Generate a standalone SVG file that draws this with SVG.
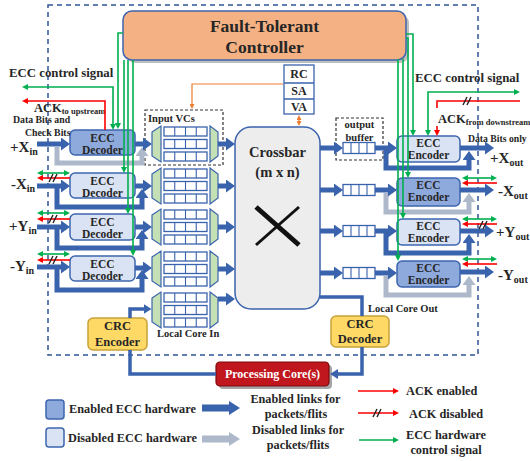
<svg xmlns="http://www.w3.org/2000/svg" xmlns:xlink="http://www.w3.org/1999/xlink" width="530" height="461" viewBox="0 0 530 461">
<style>
.t{font-family:"Liberation Serif","Times New Roman",serif;font-weight:bold;fill:#262626}
.en{fill:#8EA9DB;stroke:#3D65AE;stroke-width:1.5}
.dis{fill:#DAE3F3;stroke:#3D65AE;stroke-width:1.5}
.lk{fill:none;stroke:#3A63AD;stroke-width:5;stroke-linejoin:miter;marker-end:url(#bh)}
.lkg{fill:none;stroke:#ADB9CA;stroke-width:5;stroke-linejoin:miter;marker-end:url(#gh)}
.bl{fill:none;stroke:#3A63AD;stroke-width:3.5}
.g{fill:none;stroke:#00B050;stroke-width:1.6}
.ga{fill:none;stroke:#00B050;stroke-width:1.6;marker-end:url(#gm)}
.g2{fill:none;stroke:#00B050;stroke-width:1.6;marker-end:url(#gm);marker-start:url(#gm)}
.r{fill:none;stroke:#FF0000;stroke-width:1.6}
.rs{fill:none;stroke:#FF0000;stroke-width:1.6;marker-start:url(#rm)}
.ra{fill:none;stroke:#FF0000;stroke-width:1.6;marker-end:url(#rm)}
.hash{fill:none;stroke:#222;stroke-width:1.4}
.buf{fill:#fff;stroke:#3A63AD;stroke-width:1.3}
.mux{fill:#C5E0B4;stroke:#3A63AD;stroke-width:1.2}
.dash{fill:none;stroke:#333;stroke-width:1.2;stroke-dasharray:3,2}
.crc{fill:#FFD966;stroke:#C9A13B;stroke-width:1.5}
</style>
<defs>
<marker id="bh" markerUnits="userSpaceOnUse" viewBox="0 0 9 13" markerWidth="9" markerHeight="13" refX="0.5" refY="6.5" orient="auto"><path d="M0,0 L9,6.5 L0,13z" fill="#3A63AD"/></marker>
<marker id="gh" markerUnits="userSpaceOnUse" viewBox="0 0 9 13" markerWidth="9" markerHeight="13" refX="0.5" refY="6.5" orient="auto"><path d="M0,0 L9,6.5 L0,13z" fill="#ADB9CA"/></marker>
<marker id="mh" markerUnits="userSpaceOnUse" viewBox="0 0 8 10" markerWidth="8" markerHeight="10" refX="0.5" refY="5" orient="auto"><path d="M0,0 L8,5 L0,10z" fill="#3A63AD"/></marker>
<marker id="gm" markerUnits="userSpaceOnUse" viewBox="0 0 6 6" markerWidth="6" markerHeight="6" refX="1" refY="3" orient="auto-start-reverse"><path d="M0,0 L6,3 L0,6z" fill="#00B050"/></marker>
<marker id="rm" markerUnits="userSpaceOnUse" viewBox="0 0 6 6" markerWidth="6" markerHeight="6" refX="1" refY="3" orient="auto-start-reverse"><path d="M0,0 L6,3 L0,6z" fill="#FF0000"/></marker>
<marker id="om" markerUnits="userSpaceOnUse" viewBox="0 0 5 5" markerWidth="5" markerHeight="5" refX="1" refY="2.5" orient="auto-start-reverse"><path d="M0,0 L5,2.5 L0,5z" fill="#ED7D31"/></marker>
<g id="vcgrp">
<polygon class="mux" points="152,-12 161,-18 161,18 152,12"/>
<g class="buf">
<rect x="164" y="-17" width="43" height="9"/><rect x="164" y="-4.5" width="43" height="9"/><rect x="164" y="8" width="43" height="9"/>
</g>
<path d="M174.75,-17V-8M185.5,-17V-8M196.25,-17V-8M174.75,-4.5V4.5M185.5,-4.5V4.5M196.25,-4.5V4.5M174.75,8V17M185.5,8V17M196.25,8V17" stroke="#3A63AD" stroke-width="1.1"/>
<polygon class="mux" points="210,-18 218,-12 218,12 210,18"/>
</g>
<g id="obuf">
<rect class="buf" x="343" y="-5.5" width="32" height="11"/>
<path d="M351,-5.5V5.5M359,-5.5V5.5M367,-5.5V5.5" stroke="#3A63AD" stroke-width="1.1"/>
</g>
</defs>

<rect width="530" height="461" fill="#fff"/>
<rect x="48" y="5" width="430" height="350" fill="none" stroke="#2F5597" stroke-width="1.5" stroke-dasharray="5,4"/>

<g id="controller">
<rect x="126" y="14" width="283" height="49" rx="9" fill="#BFBFBF"/>
<rect x="123" y="11" width="283" height="49" rx="9" fill="#F4B183" stroke="#3D65AE" stroke-width="1.5"/>
<text class="t" x="264.5" y="32" font-size="17.5" text-anchor="middle">Fault-Tolerant</text>
<text class="t" x="264.5" y="53" font-size="17.5" text-anchor="middle">Controller</text>
</g>

<g id="rc-sa-va">
<rect x="284" y="65" width="30" height="49" fill="#fff" stroke="#3A63AD" stroke-width="1.3"/>
<path d="M284,83H314M284,99H314" stroke="#3A63AD" stroke-width="1.3"/>
<text class="t" x="299" y="78" font-size="12" text-anchor="middle">RC</text>
<text class="t" x="299" y="95" font-size="12" text-anchor="middle">SA</text>
<text class="t" x="299" y="111" font-size="12" text-anchor="middle">VA</text>
</g>

<g id="crossbar">
<rect x="235" y="127" width="85" height="182" rx="16" fill="#EDEDED" stroke="#3A63AD" stroke-width="1.5"/>
<text class="t" x="277.5" y="157" font-size="14.5" text-anchor="middle">Crossbar</text>
<text class="t" x="277.5" y="177" font-size="14.5" text-anchor="middle">(m x n)</text>
<path d="M256,207L299,245" stroke="#111" stroke-width="5"/>
<path d="M299,207L256,245" stroke="#111" stroke-width="3"/>
</g>

<g id="input-vcs">
<rect class="dash" x="145" y="110" width="78" height="55"/>
<text class="t" x="148" y="122" font-size="10.5">Input VCs</text>
<use xlink:href="#vcgrp" transform="translate(0,144)"/>
<use xlink:href="#vcgrp" transform="translate(0,186)"/>
<use xlink:href="#vcgrp" transform="translate(0,227)"/>
<use xlink:href="#vcgrp" transform="translate(0,269)"/>
<use xlink:href="#vcgrp" transform="translate(0,310)"/>
<text class="t" x="157" y="337" font-size="10.5">Local Core In</text>
</g>

<g id="output-buffers">
<rect class="dash" x="336" y="118" width="47" height="42"/>
<text class="t" x="359.5" y="128" font-size="10.5" text-anchor="middle">output</text>
<text class="t" x="359.5" y="141" font-size="10.5" text-anchor="middle">buffer</text>
<use xlink:href="#obuf" transform="translate(0,148)"/>
<use xlink:href="#obuf" transform="translate(0,190)"/>
<use xlink:href="#obuf" transform="translate(0,231)"/>
<use xlink:href="#obuf" transform="translate(0,273)"/>
</g>

<g id="dec-xp"><rect class="en" x="70" y="130" width="65" height="25" rx="5"/>
<text class="t" x="102.5" y="142" font-size="11.5" text-anchor="middle">ECC</text><text class="t" x="102.5" y="154" font-size="11.5" text-anchor="middle">Decoder</text></g>
<g id="dec-xm"><rect class="dis" x="70" y="173" width="65" height="25" rx="5"/>
<text class="t" x="102.5" y="185" font-size="11.5" text-anchor="middle">ECC</text><text class="t" x="102.5" y="197" font-size="11.5" text-anchor="middle">Decoder</text></g>
<g id="dec-yp"><rect class="dis" x="70" y="214" width="65" height="26" rx="5"/>
<text class="t" x="102.5" y="226" font-size="11.5" text-anchor="middle">ECC</text><text class="t" x="102.5" y="238" font-size="11.5" text-anchor="middle">Decoder</text></g>
<g id="dec-ym"><rect class="dis" x="70" y="256" width="65" height="25" rx="5"/>
<text class="t" x="102.5" y="268" font-size="11.5" text-anchor="middle">ECC</text><text class="t" x="102.5" y="280" font-size="11.5" text-anchor="middle">Decoder</text></g>

<g id="enc-xp"><rect class="dis" x="397" y="136" width="63" height="26" rx="5"/>
<text class="t" x="428.5" y="147" font-size="11.5" text-anchor="middle">ECC</text><text class="t" x="428.5" y="159" font-size="11.5" text-anchor="middle">Encoder</text></g>
<g id="enc-xm"><rect class="en" x="397" y="178" width="63" height="28" rx="5"/>
<text class="t" x="428.5" y="189" font-size="11.5" text-anchor="middle">ECC</text><text class="t" x="428.5" y="201" font-size="11.5" text-anchor="middle">Encoder</text></g>
<g id="enc-yp"><rect class="dis" x="397" y="219" width="63" height="26" rx="5"/>
<text class="t" x="428.5" y="230" font-size="11.5" text-anchor="middle">ECC</text><text class="t" x="428.5" y="242" font-size="11.5" text-anchor="middle">Encoder</text></g>
<g id="enc-ym"><rect class="en" x="397" y="261" width="63" height="26" rx="5"/>
<text class="t" x="428.5" y="272" font-size="11.5" text-anchor="middle">ECC</text><text class="t" x="428.5" y="284" font-size="11.5" text-anchor="middle">Encoder</text></g>

<g id="crc-encoder"><rect class="crc" x="88" y="318" width="59" height="32" rx="5"/>
<text class="t" x="117.5" y="330" font-size="12.5" text-anchor="middle">CRC</text><text class="t" x="117.5" y="346" font-size="12.5" text-anchor="middle">Encoder</text></g>
<g id="crc-decoder"><rect class="crc" x="331" y="316" width="58" height="31" rx="5"/>
<text class="t" x="360" y="328" font-size="12.5" text-anchor="middle">CRC</text><text class="t" x="360" y="343" font-size="12.5" text-anchor="middle">Decoder</text></g>

<g id="processing-core">
<rect x="219" y="365" width="113" height="24" rx="4" fill="#A6A6A6"/>
<rect x="216" y="362" width="113" height="24" rx="4" fill="#C0161E" stroke="#7A0A0E" stroke-width="1.2"/>
<text x="272.5" y="378" font-size="12" text-anchor="middle" font-family="Liberation Serif, serif" font-weight="bold" fill="#fff">Processing Core(s)</text>
</g>

<g id="labels">
<text class="t" x="9" y="77" font-size="12.8">ECC control signal</text>
<text class="t" x="34" y="112" font-size="12.5">ACK<tspan font-size="8.5" dy="2">to upstream</tspan></text>
<text class="t" x="13" y="123" font-size="9.8">Data Bits and</text>
<text class="t" x="25" y="136" font-size="9.8">Check Bits</text>
<text class="t" x="10" y="152" font-size="15">+X<tspan font-size="10" dy="3">in</tspan></text>
<text class="t" x="11" y="189" font-size="15">-X<tspan font-size="10" dy="3">in</tspan></text>
<text class="t" x="9" y="231" font-size="15">+Y<tspan font-size="10" dy="3">in</tspan></text>
<text class="t" x="10" y="271" font-size="15">-Y<tspan font-size="10" dy="3">in</tspan></text>
<text class="t" x="415" y="82" font-size="12.8">ECC control signal</text>
<text class="t" x="438" y="123" font-size="12.5">ACK<tspan font-size="8.5" dy="2">from downstream</tspan></text>
<text class="t" x="468" y="142" font-size="9.7">Data Bits only</text>
<text class="t" x="490" y="163" font-size="15">+X<tspan font-size="10" dy="3">out</tspan></text>
<text class="t" x="498" y="196" font-size="15">-X<tspan font-size="10" dy="3">out</tspan></text>
<text class="t" x="496" y="237" font-size="15">+Y<tspan font-size="10" dy="3">out</tspan></text>
<text class="t" x="498" y="280" font-size="15">-Y<tspan font-size="10" dy="3">out</tspan></text>
<text class="t" x="368" y="312" font-size="10.5">Local Core Out</text>
</g>

<g id="connectors">
<!-- decoder bypasses -->
<path class="lkg" d="M57,147V163H142V155.5"/>
<path class="lk" d="M57,188V207H142V197.5"/>
<path class="lk" d="M57,229V248H142V238.5"/>
<path class="lk" d="M57,269V290H142V278.5"/>
<!-- input arrows -->
<path class="lk" d="M37,144H61.5"/>
<path class="lk" d="M37,186H61.5"/>
<path class="lk" d="M37,227H61.5"/>
<path class="lk" d="M37,267H61.5"/>
<!-- decoder outputs -->
<path class="lk" d="M135,144H143.5"/>
<path class="lk" d="M135,186H143.5"/>
<path class="lk" d="M135,227H143.5"/>
<path class="lk" d="M135,268H143.5"/>
<!-- VC to crossbar -->
<path class="lk" d="M218,144H226.5"/>
<path class="lk" d="M218,186H226.5"/>
<path class="lk" d="M218,227H226.5"/>
<path class="lk" d="M218,269H226.5"/>
<path class="lk" d="M218,299H226.5"/>
<!-- encoder bypasses -->
<path class="lk" d="M386,150V168H469V159.5"/>
<path class="lkg" d="M386,193V212H469V201.5"/>
<path class="lk" d="M386,233V253H469V242.5"/>
<path class="lkg" d="M386,276V295H469V284.5"/>
<!-- crossbar to buffers -->
<path class="lk" d="M320,148H334.5"/>
<path class="lk" d="M320,190H334.5"/>
<path class="lk" d="M320,231H334.5"/>
<path class="lk" d="M320,273H334.5"/>
<path class="lk" d="M375,148H388.5"/>
<path class="lk" d="M375,190H388.5"/>
<path class="lk" d="M375,231H388.5"/>
<path class="lk" d="M375,273H388.5"/>
<!-- encoder outputs -->
<path class="lk" d="M460,148H485.5"/>
<path class="lk" d="M460,190H485.5"/>
<path class="lk" d="M460,231H485.5"/>
<path class="lk" d="M460,272H485.5"/>
<!-- local core -->
<path class="bl" d="M130,318V309H144" marker-end="url(#mh)"/>
<path class="bl" d="M130,350V374H216"/>
<path class="bl" d="M320,297H362V316"/>
<path class="bl" d="M362,347V374H337.5" marker-end="url(#mh)"/>
<!-- orange -->
<path d="M283,84H192V105" fill="none" stroke="#ED7D31" stroke-width="1.2" marker-end="url(#om)"/>
<path d="M299,119V122" fill="none" stroke="#ED7D31" stroke-width="1.2" marker-start="url(#om)" marker-end="url(#om)"/>
<!-- green control (left) -->
<path class="ga" d="M123,33H118V124"/>
<path class="ga" d="M124,60V168"/>
<path class="ga" d="M128,60V209"/>
<path class="ga" d="M133,60V251"/>
<path class="g2" d="M27,87H113V125"/>
<path class="rs" d="M27,101H105V130"/>
<!-- green control (right) -->
<path class="ga" d="M406,34H413V131"/>
<path class="ga" d="M406,38H408V173"/>
<path class="ga" d="M403,59V214"/>
<path class="ga" d="M398,59V256"/>
<path class="g2" d="M428,131V92H515"/>
<path class="r" d="M437,108V101H520"/>
<path class="hash" d="M463,105L467,97M467,105L471,97"/>
<path class="ra" d="M437,126V131"/>
<!-- left ack / control pairs -->
<path class="g2" d="M42,173H65"/><path class="rs" d="M42,178H70"/><path class="hash" d="M49,182L53,174M53,182L57,174"/>
<path class="g2" d="M42,213H65"/><path class="rs" d="M42,219H70"/><path class="hash" d="M49,223L53,215M53,223L57,215"/>
<path class="g2" d="M42,254H65"/><path class="rs" d="M42,260H70"/><path class="hash" d="M49,264L53,256M53,264L57,256"/>
<!-- right ack / control pairs -->
<path class="g2" d="M467,178H492"/><path class="rs" d="M467,183H497"/>
<path class="g2" d="M467,219H492"/><path class="rs" d="M467,224H497"/><path class="hash" d="M479,229L483,221M483,229L487,221"/>
<path class="g2" d="M467,259H492"/><path class="rs" d="M467,264H497"/>
</g>

<g id="legend">
<rect class="en" x="46" y="400" width="18" height="19" rx="3"/>
<text class="t" x="69" y="413" font-size="12.3">Enabled ECC hardware</text>
<rect class="dis" x="46" y="428" width="18" height="19" rx="3"/>
<text class="t" x="68" y="442" font-size="12.3">Disabled ECC hardware</text>
<path d="M202,404.5H229V401L240,408L229,415V411.5H202Z" fill="#3A63AD"/>
<path d="M202,435.5H229V432L240,439L229,446V442.5H202Z" fill="#ADB9CA"/>
<text class="t" x="295.5" y="403" font-size="12.2" text-anchor="middle">Enabled links for</text>
<text class="t" x="296" y="418" font-size="12.2" text-anchor="middle">packets/flits</text>
<text class="t" x="298" y="434" font-size="12.2" text-anchor="middle">Disabled links for</text>
<text class="t" x="298" y="449" font-size="12.2" text-anchor="middle">packets/flits</text>
<path class="ra" d="M358,391H394"/>
<text class="t" x="406" y="395" font-size="12.3">ACK enabled</text>
<path class="ra" d="M358,413H394"/><path class="hash" d="M373,417L377,409M377,417L381,409"/>
<text class="t" x="409" y="418" font-size="12.3">ACK disabled</text>
<path class="ga" d="M359,440H394"/>
<text class="t" x="446" y="439" font-size="12.3" text-anchor="middle">ECC hardware</text>
<text class="t" x="446" y="454" font-size="12.3" text-anchor="middle">control signal</text>
</g>
</svg>
